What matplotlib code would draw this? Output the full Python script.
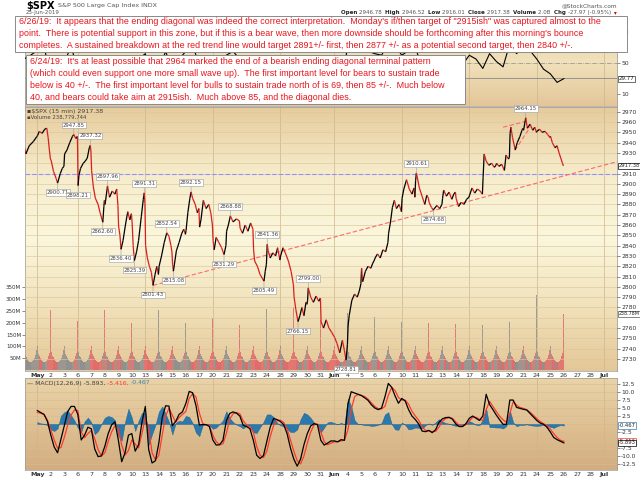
import numpy as np
import matplotlib
matplotlib.use('Agg')
import matplotlib.pyplot as plt
from matplotlib.collections import LineCollection
from matplotlib.colors import LinearSegmentedColormap
from matplotlib.patches import Rectangle

# x axis in trading days, 0 = open of May 1 2019
day_labels = ['May', '2', '3', '6', '7', '8', '9', '10', '13', '14', '15', '16', '17',
              '20', '21', '22', '23', '24', '28', '29', '30', '31', 'Jun', '4', '5', '6',
              '7', '10', '11', '12', '13', '14', '17', '18', '19', '20', '21', '24', '25',
              '26', '27', '28', 'Jul']
week_starts = [0, 3, 8, 13, 18, 22, 27, 32, 37, 42]

# 15 min price path, (day, price)
price_pts = [
    (-0.95, 2935), (-0.85, 2929), (-0.6, 2937), (-0.3, 2941), (-0.03, 2946),
    (0.02, 2947), (0.15, 2951), (0.35, 2949), (0.55, 2953), (0.7, 2954), (0.8, 2945), (0.9, 2932), (0.97, 2924),
    (1.02, 2923), (1.2, 2912), (1.4, 2905), (1.5, 2900.7), (1.7, 2910), (1.85, 2915), (1.97, 2917),
    (2.02, 2929), (2.2, 2933), (2.4, 2940), (2.6, 2946), (2.7, 2947.9), (2.85, 2944), (2.97, 2946),
    (3.02, 2898.2), (3.08, 2908), (3.2, 2915), (3.4, 2920), (3.55, 2922), (3.7, 2925), (3.85, 2935), (3.92, 2937.3), (3.97, 2932),
    (4.02, 2913), (4.15, 2897), (4.3, 2886), (4.5, 2880), (4.65, 2872), (4.85, 2862.6), (4.93, 2878), (4.97, 2884),
    (5.02, 2880), (5.2, 2898), (5.35, 2887), (5.55, 2893), (5.75, 2890), (5.88, 2895), (5.97, 2879),
    (6.02, 2859), (6.12, 2850), (6.2, 2836.4), (6.35, 2845), (6.55, 2862), (6.7, 2873), (6.85, 2865), (6.97, 2871),
    (7.02, 2863), (7.1, 2840), (7.19, 2825.4), (7.35, 2834), (7.5, 2845), (7.7, 2868), (7.85, 2885), (7.92, 2891.3), (7.97, 2881),
    (8.02, 2840), (8.15, 2828), (8.3, 2820), (8.45, 2814), (8.57, 2801.4), (8.72, 2812), (8.85, 2820), (8.97, 2812),
    (9.02, 2820), (9.2, 2830), (9.4, 2843), (9.59, 2852.5), (9.75, 2849), (9.9, 2840), (9.97, 2834),
    (10.02, 2822), (10.08, 2815.1), (10.3, 2835), (10.5, 2843), (10.7, 2852), (10.85, 2856), (10.97, 2851),
    (11.02, 2855), (11.15, 2872), (11.3, 2886), (11.39, 2892.2), (11.5, 2886), (11.7, 2880), (11.85, 2872), (11.97, 2876),
    (12.02, 2858), (12.12, 2865), (12.3, 2884), (12.5, 2876), (12.7, 2880), (12.85, 2872), (12.97, 2860),
    (13.02, 2845), (13.1, 2836), (13.25, 2848), (13.45, 2843), (13.65, 2838), (13.83, 2831.3), (13.97, 2840),
    (14.02, 2854), (14.15, 2860), (14.3, 2868.9), (14.5, 2863), (14.75, 2866), (14.97, 2864),
    (15.02, 2857), (15.2, 2852), (15.4, 2860), (15.6, 2854), (15.8, 2862), (15.97, 2856),
    (16.02, 2836), (16.1, 2825), (16.3, 2820), (16.5, 2812), (16.79, 2805.5), (16.88, 2815), (16.97, 2822),
    (17.03, 2841.4), (17.1, 2835), (17.25, 2828), (17.45, 2833), (17.65, 2830), (17.8, 2838), (17.97, 2826),
    (18.02, 2830), (18.2, 2838), (18.4, 2832), (18.6, 2825), (18.8, 2815), (18.97, 2802),
    (19.02, 2790), (19.15, 2778), (19.31, 2766.2), (19.45, 2772), (19.6, 2780), (19.75, 2772), (19.9, 2785), (19.97, 2783),
    (20.02, 2787), (20.07, 2799), (20.25, 2790), (20.45, 2785), (20.65, 2791), (20.85, 2786), (20.97, 2789),
    (21.02, 2766), (21.2, 2760), (21.4, 2768), (21.6, 2760), (21.8, 2756), (21.97, 2752),
    (22.02, 2751), (22.2, 2745), (22.4, 2736), (22.6, 2748), (22.75, 2738), (22.87, 2728.8), (22.97, 2744),
    (23.02, 2762), (23.1, 2772), (23.3, 2787), (23.5, 2793), (23.7, 2790), (23.85, 2796), (23.97, 2803),
    (24.02, 2818), (24.1, 2805), (24.3, 2815), (24.5, 2820), (24.7, 2818), (24.85, 2823), (24.97, 2826),
    (25.02, 2828), (25.2, 2832), (25.4, 2828), (25.6, 2836), (25.8, 2834), (25.97, 2843),
    (26.02, 2852), (26.15, 2862), (26.3, 2877), (26.45, 2884), (26.6, 2876), (26.8, 2880), (26.97, 2873),
    (27.02, 2886), (27.15, 2895), (27.35, 2904), (27.55, 2895), (27.75, 2890), (27.9, 2896), (27.97, 2887),
    (28.02, 2903), (28.08, 2910.6), (28.3, 2896), (28.5, 2888), (28.7, 2880), (28.85, 2889), (28.97, 2886),
    (29.02, 2882), (29.2, 2877), (29.33, 2874.7), (29.6, 2879), (29.8, 2876), (29.97, 2880),
    (30.02, 2886), (30.1, 2894), (30.3, 2888), (30.5, 2892), (30.7, 2885), (30.85, 2890), (30.97, 2892),
    (31.02, 2886), (31.2, 2878), (31.4, 2882), (31.6, 2880), (31.8, 2885), (31.97, 2887),
    (32.02, 2889), (32.2, 2896), (32.4, 2891), (32.6, 2895), (32.8, 2893), (32.97, 2890),
    (33.02, 2906), (33.1, 2929), (33.25, 2922), (33.45, 2918), (33.65, 2920), (33.85, 2916), (33.97, 2918),
    (34.02, 2920), (34.2, 2917), (34.4, 2919), (34.6, 2913), (34.72, 2928), (34.9, 2924), (34.97, 2926),
    (35.02, 2949), (35.08, 2955), (35.2, 2945), (35.4, 2933), (35.55, 2940), (35.75, 2946), (35.9, 2952), (35.97, 2954),
    (36.02, 2952), (36.18, 2964.2), (36.3, 2954), (36.5, 2958), (36.7, 2952), (36.85, 2955), (36.97, 2950),
    (37.02, 2951), (37.2, 2953), (37.4, 2950), (37.6, 2951), (37.8, 2948), (37.97, 2945),
    (38.02, 2946), (38.15, 2940), (38.35, 2935), (38.5, 2937), (38.65, 2930), (38.8, 2924), (38.9, 2920), (38.97, 2917.4),
]

# labelled swing highs / lows
tag_t = [2.7, 3.92, 1.5, 3.02, 5.2, 4.85, 7.92, 6.2, 7.19, 8.57, 9.59, 10.08, 11.39, 14.3,
         13.83, 17.03, 16.79, 20.07, 19.31, 28.08, 29.33, 22.87, 36.18]
tag_p = [2947.85, 2937.32, 2900.71, 2898.21, 2897.96, 2862.60, 2891.31, 2836.40, 2825.39,
         2801.43, 2852.54, 2815.08, 2892.15, 2868.88, 2831.29, 2841.36, 2805.49, 2799.00,
         2766.15, 2910.61, 2874.68, 2728.81, 2964.15]
tag_up = [1, 1, 0, 0, 1, 0, 1, 0, 0, 0, 1, 0, 1, 1, 0, 1, 0, 1, 0, 1, 0, 0, 1]

trend_t = [8.57, 42.94]
trend_p = [2801.4, 2921.5]
diag_hi_t = [34.5, 36.3]
diag_hi_p = [2955, 2961]
diag_lo_t = [35.38, 36.5]
diag_lo_p = [2932.5, 2955]

# volume (M): typical 15 min bars of a session, last bar of each session
vol_profile = [100, 78, 68, 60, 55, 50, 46, 43, 40, 38, 36, 35, 34, 34, 35, 36, 38, 40,
               43, 47, 52, 58, 65, 72, 85]
vol_close = [264, 254, 144, 209, 188, 254, 237, 200, 212, 254, 220, 199, 205, 220, 195, 190,
             188, 260, 199, 268, 233, 212, 268, 241, 254, 226, 226, 205, 205, 199, 169, 195,
             169, 190, 178, 205, 280, 318, 199, 238.8]

# MACD(12,26,9), every quarter session from May 1
macd_v = [4.2, 3.6, 3.0, 0.8, -3.5, -7.2, -9.0, -4.8, -0.5, 3.9, 5.5, 5.5,
          3.0, -5.0, -3.5, -1.0, -1.5, -7.8, -10.2, -10.0, -7.0, -3.0, -0.3, 0.7,
          -5.0, -11.8, -9.0, -3.5, -3.0, -8.5, -6.5, 0.5, 5.5, -8.0, -12.2, -11.5,
          -6.0, 2.0, 5.7, 5.6, -0.5, 0.8, 3.0, 3.8, 6.4, 10.2, 9.8, 5.8,
          -0.3, -0.2, -0.2, -0.8, -5.0, -6.6, -6.5, -5.1, 1.0, 3.3, 3.8, 3.4,
          2.5, -0.4, -0.8, -1.5, -5.1, -9.8, -10.8, -9.9, -5.5, -1.0, 1.7, 1.4,
          0.8, -0.2, -3.0, -7.5, -11.0, -13.2, -11.0, -6.5, -3.0, -0.6, 0.1, -0.2,
          -5.1, -6.6, -6.0, -5.3, -5.3, -5.6, -4.9, -5.1, 6.0, 10.1, 9.7, 9.3,
          8.9, 8.2, 7.4, 6.0, 5.0, 4.5, 5.0, 8.5, 12.7, 11.5, 8.8, 6.5,
          8.0, 7.2, 4.5, 2.5, 1.4, 0.0, -2.2, -2.4, -2.0, -2.7, -1.8, 0.5,
          1.6, 2.0, 2.1, 1.5, 0.0, -0.8, -0.8, 0.1, 1.8, 2.5, 1.8, 1.1,
          2.5, 9.3, 6.1, 4.5, 2.8, 1.3, -0.1, -0.1, 7.5, 7.5, 5.2, 4.9,
          4.6, 4.4, 3.3, 2.2, 1.1, 0.3, -0.1, -1.0, -2.5, -4.2, -4.9, -5.4, -5.9]
signal_v = [3.6, 3.4, 2.9, 1.2, -1.8, -5.0, -7.6, -7.4, -4.2, -0.3, 2.8, 4.4,
            4.2, -2.5, -4.3, -3.0, -2.0, -4.6, -8.0, -10.0, -9.0, -5.5, -2.5, -0.5,
            -1.4, -6.6, -9.7, -8.3, -5.0, -6.3, -7.5, -3.0, 2.0, -1.5, -9.0, -11.2,
            -9.8, -3.5, 2.5, 4.9, 2.8, 0.5, 2.0, 3.0, 3.9, 8.0, 9.5, 8.5,
            3.5, 0.2, -0.3, -0.5, -3.5, -5.5, -6.5, -6.2, -3.0, 1.5, 3.2, 3.6,
            3.2, 1.0, -0.3, -1.0, -2.5, -7.0, -9.8, -10.5, -8.5, -4.0, -0.5, 1.0,
            1.2, 0.5, -1.5, -5.0, -8.5, -11.5, -12.5, -10.0, -6.0, -2.5, -0.3, 0.0,
            -2.5, -5.5, -6.5, -6.0, -5.6, -5.5, -5.3, -5.0, -2.0, 4.5, 8.5, 9.3,
            9.0, 8.6, 7.8, 6.6, 5.5, 4.8, 4.7, 5.5, 9.0, 11.5, 10.5, 8.3,
            7.5, 7.5, 6.2, 4.0, 2.5, 1.2, -0.8, -2.0, -2.2, -2.4, -2.3, -1.0,
            0.8, 1.7, 2.0, 1.8, 0.6, -0.4, -0.6, -0.2, 0.9, 2.1, 2.1, 1.5,
            1.1, 4.5, 7.1, 5.5, 3.9, 2.4, 1.3, 0.5, 3.2, 7.0, 5.9, 5.2,
            4.9, 4.5, 3.7, 2.7, 1.7, 0.8, 0.1, -0.6, -1.6, -3.0, -4.2, -5.1, -5.4]

# RSI(14), every half session from Apr 30
rsi_v = [55, 60, 66, 70, 35, 28, 50, 72, 40, 52, 55, 30, 40, 55, 35, 45, 48, 55, 62, 25,
         40, 65, 42, 55, 65, 75, 45, 58, 38, 42, 60, 65, 55, 52, 30, 28, 55, 45, 50, 42,
         30, 25, 55, 48, 30, 40, 35, 30, 70, 75, 72, 65, 62, 60, 75, 72, 60, 66, 70, 45,
         45, 42, 58, 55, 52, 48, 60, 55, 43, 62, 52, 45, 75, 62, 72, 66, 55, 42, 36, 25, 29.77]

box1_lines = [
    "6/26/19:  It appears that the ending diagonal was indeed the correct interpretation.  Monday's if/then target of \"2915ish\" was captured almost to the",
    "point.  There is potential support in this zone, but if this is a bear wave, then more downside should be forthcoming after this morning's bounce",
    "completes.  A sustained breakdown at the red trend line would target 2891+/- first, then 2877 +/- as a potential second target, then 2840 +/-.",
]
box2_lines = [
    "6/24/19:  It's at least possible that 2964 marked the end of a bearish ending diagonal terminal pattern",
    "(which could even support one more small wave up).  The first important level for bears to sustain trade",
    "below is 40 +/-.  The first important level for bulls to sustain trade north of is 69, then 85 +/-.  Much below",
    "40, and bears could take aim at 2915ish.  Much above 85, and the diagonal dies.",
]

W_PX, H_PX = 640, 479
XLIM = (-0.95, 42.94)
GRID = '#cdb58c'
TXT = '#333333'

fig = plt.figure(figsize=(6.4, 4.79), dpi=100)


def fbox(top, bottom, left=24.5, right=617):
    return [left / W_PX, 1 - bottom / H_PX, (right - left) / W_PX, (bottom - top) / H_PX]


def fxy(x, y):
    return x / W_PX, 1 - y / H_PX


def background(ax, colors):
    cmap = LinearSegmentedColormap.from_list('bg', colors)
    grad = np.linspace(0, 1, 256).reshape(-1, 1)
    ax.imshow(grad, cmap=cmap, extent=[0, 1, 0, 1], transform=ax.transAxes,
              aspect='auto', origin='lower', zorder=0)


def style(ax):
    for s in ax.spines.values():
        s.set_color('#9a9a9a')
        s.set_linewidth(0.5)
    ax.set_xlim(*XLIM)
    for w in week_starts:
        ax.axvline(w, color=GRID, lw=0.5, zorder=1)


def right_tag(ax, val, text, ec, size=4.0):
    ax.annotate(text, xy=(1, val), xycoords=('axes fraction', 'data'), xytext=(1.2, 0),
                textcoords='offset points', va='center', ha='left', fontsize=size, color='#222',
                bbox=dict(boxstyle='square,pad=0.1', fc='white', ec=ec, lw=0.5),
                annotation_clip=False, zorder=6)


ax_rsi = fig.add_axes(fbox(16, 106))
ax_vol = fig.add_axes(fbox(107, 371))
ax_px = ax_vol.twinx()
ax_macd = fig.add_axes(fbox(378, 470))

# ---- RSI panel (mostly hidden by the notes)
background(ax_rsi, ['#e3c699', '#f1e2bc', '#e3c699'])
style(ax_rsi)
rsi_t = np.arange(len(rsi_v)) * 0.5 - 1
ax_rsi.plot(rsi_t, rsi_v, color='black', lw=0.8, zorder=3)
ax_rsi.axhline(50, color='#8a8a8a', lw=0.5, ls='-.', zorder=2)
ax_rsi.axhline(30, color='#8a8a8a', lw=0.6, zorder=2)
ax_rsi.axhline(70, color='#8a8a8a', lw=0.6, zorder=2)
ax_rsi.set_ylim(-5.5, 110.6)
ax_rsi.set_xticks([])
ax_rsi.yaxis.tick_right()
ax_rsi.set_yticks([10, 50, 90])
ax_rsi.tick_params(axis='y', labelsize=4.3, length=2, width=0.4, pad=1, colors=TXT)
right_tag(ax_rsi, 29.77, '29.77', '#333', 4.0)

# ---- price + volume panel
background(ax_vol, ['#e4c797', '#f1e2bb', '#fbf7dc', '#f6eccb', '#e6cb9c'])
style(ax_vol)
pt = np.array([p[0] for p in price_pts])
pv = np.array([p[1] for p in price_pts])

bar_t, bar_v, bar_c = [], [], []
for d in range(-1, 39):
    for j in range(26):
        tb = d + (j + 0.5) / 26
        v = vol_profile[j] if j < 25 else vol_close[d + 1]
        k = min(max(np.searchsorted(pt, tb) - 1, 0), len(pt) - 2)
        bar_t.append(tb)
        bar_v.append(v)
        bar_c.append('#8f8f8f' if pv[k + 1] >= pv[k] else '#e06a6a')
ax_vol.bar(bar_t, bar_v, width=0.055, color=bar_c, alpha=0.85, linewidth=0, zorder=2)
ax_vol.set_ylim(-4, 1115)
ax_vol.set_yticks([50, 100, 150, 200, 250, 300, 350])
ax_vol.set_yticklabels(['50M', '100M', '150M', '200M', '250M', '300M', '350M'])
ax_vol.tick_params(axis='y', labelsize=4.0, length=2, width=0.4, pad=0.5, colors=TXT)
ax_vol.set_xticks(range(len(day_labels)))
ax_vol.set_xticklabels(day_labels)
ax_vol.tick_params(axis='x', labelsize=4.6, length=0, pad=1.5, colors=TXT)
for lb in ax_vol.get_xticklabels():
    if lb.get_text() in ('May', 'Jun', 'Jul'):
        lb.set_fontweight('bold')
right_tag(ax_vol, 238.8, '238.78M', '#555', 3.4)

ax_px.set_ylim(2718.3, 2974.6)
ax_px.set_xlim(*XLIM)
for lv in range(2730, 2971, 10):
    ax_px.axhline(lv, color='#dcc7a0', lw=0.45, zorder=1)
ax_px.axhline(2910, color='#9090ff', lw=0.8, ls=(0, (4, 2)), zorder=2)
ax_px.plot(trend_t, trend_p, color='#ff6a6a', lw=0.8, ls=(0, (4, 2)), zorder=2)
ax_px.plot(diag_hi_t, diag_hi_p, color='#ff6a6a', lw=0.8, ls=(0, (4, 2)), zorder=2)
ax_px.plot(diag_lo_t, diag_lo_p, color='#ff6a6a', lw=0.8, ls=(0, (4, 2)), zorder=2)

segs = np.stack([np.column_stack([pt[:-1], pv[:-1]]), np.column_stack([pt[1:], pv[1:]])], axis=1)
seg_c = ['black' if b >= a else '#d81e1e' for a, b in zip(pv[:-1], pv[1:])]
ax_px.add_collection(LineCollection(segs, colors=seg_c, linewidths=0.9, zorder=3))

for t, p, up in zip(tag_t, tag_p, tag_up):
    dy = 5 if up else -5
    ax_px.annotate(f'{p:.2f}', xy=(t, p), xytext=(0, dy), textcoords='offset points',
                   ha='center', va='bottom' if up else 'top', fontsize=3.9, color='#444',
                   bbox=dict(boxstyle='square,pad=0.15', fc='white', ec='#999', lw=0.4),
                   arrowprops=dict(arrowstyle='-', color='#999', lw=0.4, shrinkA=0, shrinkB=0),
                   zorder=5)

# 2920 and 2770 sit under the value tags, as on the original
pticks = [v for v in range(2730, 2971, 10) if v not in (2920, 2770)]
ax_px.set_yticks(pticks)
ax_px.tick_params(axis='y', labelsize=4.3, length=2, width=0.4, pad=1, colors=TXT)
for s in ax_px.spines.values():
    s.set_visible(False)
right_tag(ax_px, 2917.38, '2917.38', 'black', 3.7)

# ---- MACD panel
background(ax_macd, ['#d2ad80', '#dfc194', '#e9d3a7'])
style(ax_macd)
mt = np.arange(len(macd_v)) * 0.25
mv = np.array(macd_v)
sv = np.array(signal_v)
for lv in np.arange(-12.5, 12.6, 2.5):
    ax_macd.axhline(lv, color='#d6bc90', lw=0.4, zorder=1)
ax_macd.fill_between(mt, 0, mv - sv, color='#2b78ad', lw=0.3, edgecolor='#1d5e8c', zorder=2)
ax_macd.plot(mt, sv, color='#ff3a2a', lw=0.9, zorder=3)
ax_macd.plot(mt, mv, color='black', lw=0.9, zorder=4)
ax_macd.set_ylim(-14.4, 14.4)
ax_macd.yaxis.tick_right()
mticks = [v for v in np.arange(-12.5, 12.6, 2.5) if abs(v) > 0.1 and abs(v + 5) > 0.1]
ax_macd.set_yticks(mticks)
ax_macd.set_yticklabels([f'{v:.1f}' for v in mticks])
ax_macd.tick_params(axis='y', labelsize=4.3, length=2, width=0.4, pad=1, colors=TXT)
ax_macd.set_xticks(range(len(day_labels)))
ax_macd.set_xticklabels(day_labels)
ax_macd.tick_params(axis='x', labelsize=4.6, length=0, pad=1.5, colors=TXT)
for lb in ax_macd.get_xticklabels():
    if lb.get_text() in ('May', 'Jun', 'Jul'):
        lb.set_fontweight('bold')
right_tag(ax_macd, -5.416, '-5.416', '#ff3a2a', 3.8)
right_tag(ax_macd, -5.893, '-5.893', 'black', 3.8)
right_tag(ax_macd, -0.467, '-0.467', '#3a7fb5', 3.8)

# ---- header texts
renderer = fig.canvas.get_renderer()


def seq_text(x, y, parts, right=False, **common):
    arts = []
    for s, kw in parts:
        t = fig.text(*fxy(x, y), s, va='center', ha='left', **common, **kw)
        w = t.get_window_extent(renderer=renderer).width
        arts.append((t, x))
        x += w
    if right:
        shift = x - arts[0][1]
        x0 = arts[0][1] - shift
        for t, xs in arts:
            t.set_x((xs - arts[0][1] + x0) / W_PX)


seq_text(26, 6, [('$SPX', dict(fontsize=7, fontweight='bold', color='black')),
                 ('  S&P 500 Large Cap Index INDX', dict(fontsize=4.6, color='#555'))])
fig.text(*fxy(26, 12.5), '25-Jun-2019', fontsize=4.0, color='#555', va='center')
fig.text(*fxy(617, 5.5), '@StockCharts.com', fontsize=4.2, color='#555', va='center', ha='right')
hdr = []
for k, v in [('Open', '2946.78'), ('High', '2946.52'), ('Low', '2916.01'), ('Close', '2917.38'),
             ('Volume', '2.0B'), ('Chg', '-27.97 (-0.95%)')]:
    hdr.append((k + ' ', dict(fontweight='bold', color='#222')))
    hdr.append((v + '  ', dict(color='#555')))
hdr.append(('\u25be', dict(color='#c00')))
seq_text(617, 12.5, hdr, right=True, fontsize=4.0)

seq_text(27, 111.5, [('\u25aa$SPX (15 min) 2917.38', dict(color='#444'))], fontsize=4.5)
seq_text(27, 117, [('\u25aaVolume 238,779,744', dict(color='#444'))], fontsize=3.9)
seq_text(27, 383, [('\u2014 MACD(12,26,9) -5.893, ', dict(color='#444')),
                   ('-5.416, ', dict(color='#ff3a2a')),
                   ('-0.467', dict(color='#3a7fb5'))], fontsize=4.4)

# ---- note boxes
for (l, t, r, b) in [(15, 16, 627, 52), (26, 55, 465, 104)]:
    fig.add_artist(Rectangle(fxy(l, b), (r - l) / W_PX, (b - t) / H_PX, transform=fig.transFigure,
                             fc='white', ec='#8a8a8a', lw=0.7, zorder=10))
for i, s in enumerate(box1_lines):
    fig.text(*fxy(19, 22 + 12 * i), s, fontsize=6.4, color='#e8141b', va='center', ha='left',
             family='Liberation Sans', zorder=11)
for i, s in enumerate(box2_lines):
    fig.text(*fxy(30, 62 + 12 * i), s, fontsize=6.4, color='#e8141b', va='center', ha='left',
             family='Liberation Sans', zorder=11)

fig.savefig('out.png', dpi=100)
